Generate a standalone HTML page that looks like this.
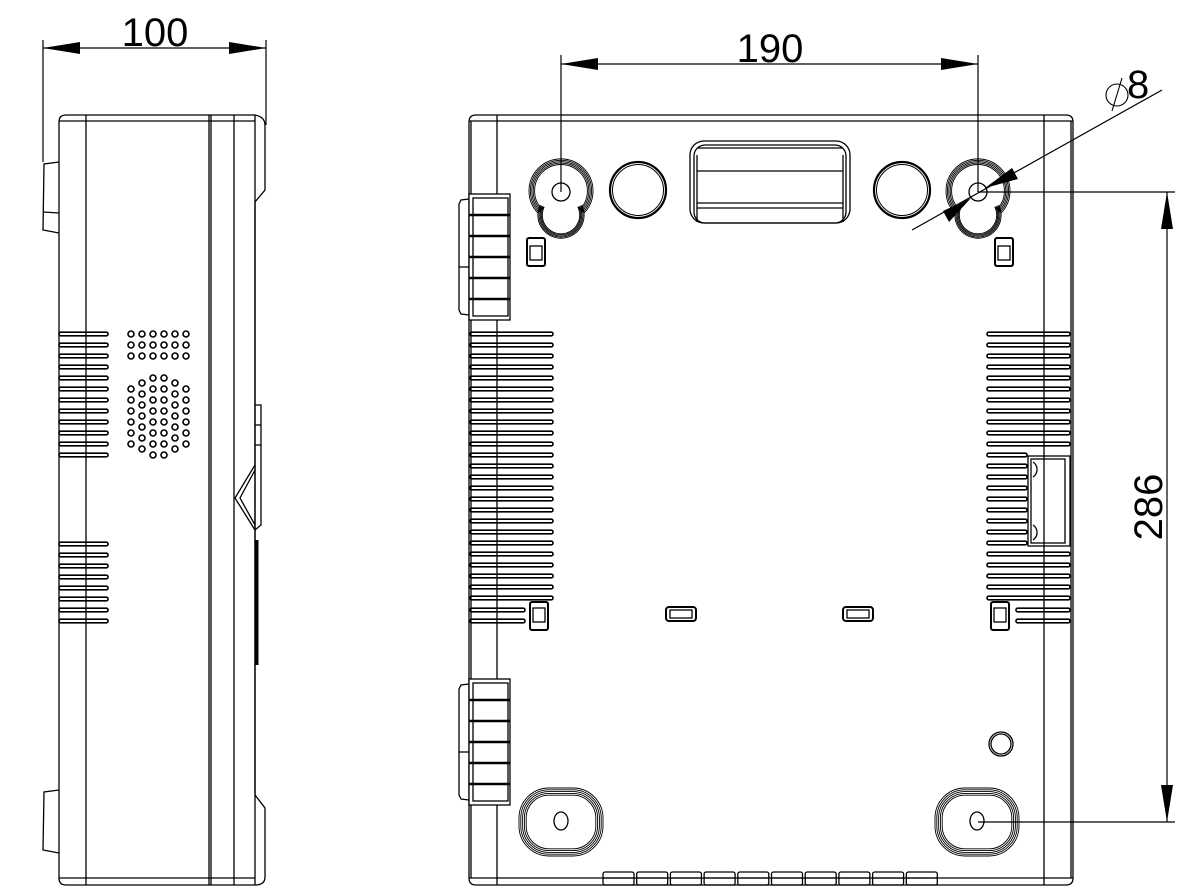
<!DOCTYPE html>
<html><head><meta charset="utf-8"><style>
html,body{margin:0;padding:0;background:#fff;}
svg{display:block;font-family:"Liberation Sans",sans-serif;}
</style></head><body>
<svg id="s" width="1190" height="895" viewBox="0 0 1190 895" xmlns="http://www.w3.org/2000/svg" fill="none" stroke="#000" stroke-width="1.3">
<path d="M59,880 L59,122 Q59,115 66,115 L255,115 Q265,117 265,125 L265,190 L255,202 L255,795 L265,808 L265,877 Q265,885 255,885 L66,885 Q59,885 59,878 Z"/>
<line x1="59" y1="121" x2="255" y2="121"/>
<line x1="59" y1="878" x2="255" y2="878"/>
<line x1="86" y1="115" x2="86" y2="885"/>
<line x1="209" y1="115" x2="209" y2="885"/>
<line x1="211" y1="115" x2="211" y2="885"/>
<line x1="234" y1="115" x2="234" y2="885"/>
<line x1="255" y1="115" x2="255" y2="885"/>
<path d="M59,162 L44,164 L43,230 L59,233"/><line x1="43" y1="212" x2="59" y2="213"/>
<path d="M59,790 L44,792 L43,850 L59,853"/>
<path d="M255,405 L261,405 L261,525 L255,530"/>
<line x1="255" y1="425" x2="261" y2="425"/><line x1="255" y1="445" x2="261" y2="445"/>
<path d="M255,465 L235,498 L255,530"/><path d="M255,470 L240,498 L255,525"/>
<line x1="257" y1="540" x2="257" y2="665" stroke-width="3"/>
<g id="lv"></g>
<g id="dots"></g>

<path d="M469,122 Q469,115 476,115 L1066,115 Q1073,115 1073,122 L1073,878 Q1073,885 1066,885 L476,885 Q469,885 469,878 Z"/>
<line x1="469" y1="121" x2="1073" y2="121"/>
<line x1="469" y1="878" x2="1073" y2="878"/>
<line x1="497" y1="115" x2="497" y2="885"/>
<line x1="1044" y1="115" x2="1044" y2="885"/>
<line x1="1071" y1="121" x2="1071" y2="878"/>
<line x1="471" y1="121" x2="471" y2="878"/>
<g id="conn"></g>
<g id="keys"></g>
<circle cx="638" cy="190" r="28" stroke-width="2.2"/><circle cx="638" cy="190" r="25.5" stroke-width="1"/>
<circle cx="902" cy="190" r="28" stroke-width="2.2"/><circle cx="902" cy="190" r="25.5" stroke-width="1"/>
<rect x="690" y="141" width="160" height="82" rx="14"/>
<rect x="694" y="145" width="152" height="78" rx="11"/>
<line x1="698" y1="148" x2="842" y2="148"/>
<line x1="697" y1="171" x2="843" y2="171"/>
<line x1="697" y1="203" x2="843" y2="203"/>
<line x1="697" y1="208" x2="843" y2="208"/>
<line x1="697" y1="155" x2="697" y2="222"/><line x1="843" y1="155" x2="843" y2="222"/>
<rect x="527" y="238" width="18" height="28" rx="2" stroke-width="2"/><rect x="530" y="246" width="12" height="14"/>
<rect x="995" y="238" width="18" height="28" rx="2" stroke-width="2"/><rect x="998" y="246" width="12" height="14"/>
<rect x="530" y="602" width="18" height="28" rx="2" stroke-width="2"/><rect x="533" y="608" width="12" height="14"/>
<rect x="991" y="602" width="18" height="28" rx="2" stroke-width="2"/><rect x="994" y="608" width="12" height="14"/>
<rect x="666" y="607" width="30" height="14" rx="3" stroke-width="2"/><rect x="670" y="610" width="22" height="8"/>
<rect x="843" y="607" width="30" height="14" rx="3" stroke-width="2"/><rect x="847" y="610" width="22" height="8"/>
<rect x="1028" y="456" width="42" height="90"/>
<rect x="1031" y="459" width="34" height="84"/>
<path d="M1033,462 A9,9 0 0 1 1033,477"/><path d="M1033,525 A9,9 0 0 1 1033,540"/>
<g id="rv"></g>
<g id="bm"></g>
<circle cx="1001" cy="744" r="12"/><circle cx="1001" cy="744" r="10"/>
<g id="tabs"></g>

<g stroke-width="1.2">
<line x1="43" y1="40" x2="43" y2="162"/><line x1="266" y1="40" x2="266" y2="125"/>
<line x1="43" y1="48" x2="266" y2="48"/>
<line x1="561" y1="55" x2="561" y2="192"/><line x1="978" y1="55" x2="978" y2="192"/>
<line x1="561" y1="64" x2="978" y2="64"/>
<line x1="978" y1="192" x2="1175" y2="192"/><line x1="978" y1="822" x2="1175" y2="822"/>
<line x1="1167" y1="192" x2="1167" y2="822"/>
<line x1="912" y1="230" x2="1162" y2="90"/>
</g>
<g fill="#000" stroke="none">
<polygon points="43,48 80,42 80,54"/><polygon points="266,48 229,42 229,54"/>
<polygon points="561,64 598,58 598,70"/><polygon points="978,64 941,58 941,70"/>
<polygon points="1167,192 1161,229 1173,229"/><polygon points="1167,822 1161,785 1173,785"/>
<polygon points="985,188 1012,168 1018,179"/><polygon points="971,198 943,211 949,222"/>
</g>
<g fill="#000" stroke="none" font-size="40">
<text x="155" y="46" text-anchor="middle">100</text>
<text x="770" y="62" text-anchor="middle">190</text>
<text transform="translate(1162,507) rotate(-90)" text-anchor="middle">286</text>
<text x="1127" y="98" font-size="40">8</text>
</g>
<g stroke-width="1.1"><circle cx="1117" cy="95" r="11"/><line x1="1112" y1="111" x2="1122" y2="78"/></g>
</svg>
<script>
var NS="http://www.w3.org/2000/svg";
function el(p,t,a){var e=document.createElementNS(NS,t);for(var k in a)e.setAttribute(k,a[k]);document.getElementById(p).appendChild(e);return e;}
function slot(p,x1,x2,y){el(p,"rect",{x:x1,y:y-1.8,width:x2-x1,height:3.6,rx:1.6,"stroke-width":1.6});}
for(var i=0;i<12;i++)slot("lv",59,108,334+i*11);
for(var i=0;i<8;i++)slot("lv",59,108,544+i*11);
var dx=[131,142,153,164,175,186];
for(var r=0;r<3;r++)for(var c=0;c<6;c++)el("dots","circle",{cx:dx[c],cy:334+r*11,r:3,"stroke-width":1.6});
var colRows=[[389,400,411,422,433,444],[383,394,405,416,427,438,449],[378,389,400,411,422,433,444,455]];
var pattern=[0,1,2,2,1,0];
for(var c=0;c<6;c++){var rows=colRows[pattern[c]];for(var r=0;r<rows.length;r++)el("dots","circle",{cx:dx[c],cy:rows[r],r:3,"stroke-width":1.6});}
for(var i=0;i<25;i++){var y=334+i*11;slot("rv",470,553,y);var xe=(y>452&&y<548)?1027:1070;slot("rv",987,xe,y);}
slot("rv",470,525,610);slot("rv",470,525,621);slot("rv",1016,1070,610);slot("rv",1016,1070,621);
[[194,320],[679,805]].forEach(function(c){
 var a=c[0],b=c[1];
 el("conn","rect",{x:469,y:a,width:41,height:b-a,fill:"#fff"});
 el("conn","rect",{x:473,y:a+4,width:35,height:b-a-8});
 el("conn","path",{d:"M469,"+(a+5)+" L461,"+(a+6)+" L459,"+(a+10)+" L459,"+(b-10)+" L461,"+(b-6)+" L469,"+(b-5)});
 el("conn","line",{x1:459,y1:(a+b)/2+10,x2:469,y2:(a+b)/2+10});
 var h=(b-a)/6;
 for(var i=1;i<6;i++)el("conn","line",{x1:469,y1:a+i*h,x2:510,y2:a+i*h,"stroke-width":2.4});
});
[561,978].forEach(function(cx){
 var cy=191;
 for(var k=0;k<5;k++){var R=32-k*1.4;
  var lx=cx-R*0.72, ly=cy+R*0.69, rx=cx+R*0.72;
  var sc=cy+24; var sr=Math.sqrt(Math.pow(R*0.72,2)+Math.pow(sc-ly,2))-k*0.3;
  var d="M"+lx+","+ly+" A"+R+","+R+" 0 1 1 "+rx+","+ly+" L"+(cx+sr*0.9)+","+(sc-sr*0.43)+" A"+sr+","+sr+" 0 0 1 "+(cx-sr*0.9)+","+(sc-sr*0.43)+" Z";
  // fix: sweep downward
  d="M"+lx+","+ly+" A"+R+","+R+" 0 1 1 "+rx+","+ly+" L"+(cx+sr*0.9)+","+(sc-sr*0.43)+" A"+sr+","+sr+" 0 0 1 "+(cx-sr*0.9)+","+(sc-sr*0.43)+" Z";
  d=d.replace(/ 0 0 1 /," 0 0 1 ");
  var p="M"+lx+","+ly+" A"+R+","+R+" 0 1 1 "+rx+","+ly+" L"+(cx+sr*0.9)+","+(sc-sr*0.43)+" A"+sr+","+sr+" 0 0 1 "+(cx-sr*0.9)+","+(sc-sr*0.43)+" Z";
  p="M"+lx+","+ly+" A"+R+","+R+" 0 1 1 "+rx+","+ly+" L"+(cx+sr*0.9)+","+(sc-sr*0.43)+" A"+sr+","+sr+" 0 1 1 "+(cx-sr*0.9)+","+(sc-sr*0.43)+" Z";
  el("keys","path",{d:p,"stroke-width":0.9});}
 el("keys","circle",{cx:cx,cy:192,r:9});
});
[561,977].forEach(function(cx){
 for(var k=0;k<5;k++){var o=k*1.8;el("bm","rect",{x:cx-42+o,y:788+o,width:84-2*o,height:68-2*o,rx:30-o,"stroke-width":0.9});}
 el("bm","ellipse",{cx:cx,cy:821,rx:7,ry:9});
});
for(var i=0;i<10;i++){var x=603+i*33.7;el("tabs","rect",{x:x,y:872,width:31,height:13,rx:2});el("tabs","line",{x1:x,y1:878,x2:x+31,y2:878});}
</script>
</body></html>
